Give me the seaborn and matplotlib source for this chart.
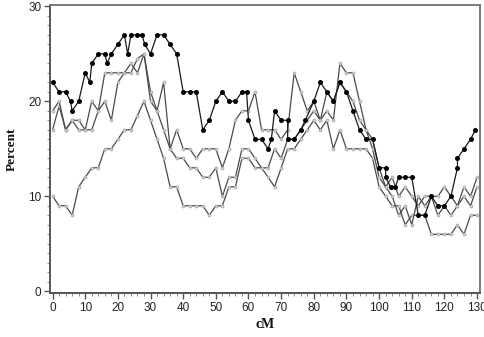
import matplotlib
matplotlib.use("Agg")
import matplotlib.pyplot as plt
import seaborn as sns
import pandas as pd
from matplotlib.ticker import MultipleLocator

# ---- data ----
black_x = [0, 2, 4, 5.5, 6, 8, 10, 11.4, 12, 14, 16, 16.7, 18, 20, 22, 23, 24, 26, 27.4, 28.2,
           30, 32, 34, 36, 38, 40, 42, 44, 46, 48, 50, 52, 54, 56, 58, 59.4, 60, 62, 64, 66,
           67, 68, 70, 72, 72, 74, 76, 77.4, 80, 82, 84, 86, 88, 90, 92, 94, 96, 98, 100, 102,
           102, 103.5, 105, 106, 108, 110, 112, 114, 116, 118, 120, 122, 124, 124, 126, 128, 129.5]
black_y = [22, 21, 21, 20, 19, 20, 23, 22, 24, 25, 25, 24, 25, 26, 27, 25, 27, 27, 27, 26,
           25, 27, 27, 26, 25, 21, 21, 21, 17, 18, 20, 21, 20, 20, 21, 21, 18, 16, 16, 15,
           16, 19, 18, 18, 16, 16, 17, 18, 20, 22, 21, 20, 22, 21, 19, 17, 16, 16, 13, 13,
           12, 11, 11, 12, 12, 12, 8, 8, 10, 9, 9, 10, 13, 14, 15, 16, 17]

grid_x = list(range(0, 131, 2))
gray_b = [17, 19.5, 17, 18, 17, 17, 17, 19, 23, 23, 23, 23, 23, 24.5, 25, 21, 19, 17, 15, 14,
          14, 13, 13, 12, 12, 13, 10, 12, 12, 15, 15, 14, 13, 13, 15, 14, 16, 16, 17, 18,
          19, 18, 21, 20, 22, 21, 20, 18, 17, 16, 13, 11, 10, 8, 9, 7, 10, 9, 10, 8,
          9, 8, 9, 10, 9, 11]
gray_c = [19, 20, 17, 18, 18, 17, 20, 19, 20, 18, 22, 23, 24, 23, 25, 20, 19, 22, 15, 17,
          15, 15, 14, 15, 15, 15, 13, 15, 18, 19, 19, 21, 17, 17, 17, 16, 17, 23, 21, 19,
          20, 18, 19, 18, 24, 23, 23, 20, 17, 15, 12, 11, 12, 10, 11, 10, 9, 10, 10, 10,
          11, 10, 9, 11, 10, 12]
gray_d = [10, 9, 9, 8, 11, 12, 13, 13, 15, 15, 16, 17, 17, 18.5, 20, 18, 16, 14, 11, 11,
          9, 9, 9, 9, 8, 9, 9, 11, 11, 14, 14, 13, 13, 12, 11, 13, 15, 15, 16, 17,
          18, 17, 18, 15, 17, 15, 15, 15, 15, 14, 11, 10, 9, 9, 7, 8, 8, 8, 6, 6,
          6, 6, 7, 6, 8, 8]

x_ticks = list(range(0, 131, 10))
y_ticks = [0, 10, 20, 30]

# ---- style ----
sns.set_style("ticks")
plt.rcParams['font.family'] = ['Liberation Sans', 'DejaVu Sans']

fig = plt.figure(figsize=(4.85, 3.37), dpi=100)
ax = fig.add_axes([0.103, 0.13, 0.886, 0.854])

gray_line = "#4a4a4a"
for ys in (gray_d, gray_b, gray_c):
    df = pd.DataFrame({"cM": grid_x, "Percent": ys})
    sns.lineplot(data=df, x="cM", y="Percent", ax=ax, color=gray_line, lw=0.9,
                 marker="o", markersize=2.2, markerfacecolor="#d0d0d0",
                 markeredgecolor="#9a9a9a", markeredgewidth=0.4,
                 estimator=None, sort=False)

dfa = pd.DataFrame({"cM": black_x, "Percent": black_y})
sns.lineplot(data=dfa, x="cM", y="Percent", ax=ax, color="#1a1a1a", lw=0.9,
             marker="o", markersize=3.6, markerfacecolor="black",
             markeredgecolor="black", markeredgewidth=0,
             estimator=None, sort=False)

ax.set_xlim(-0.8, 130.8)
ax.set_ylim(-0.2, 30.1)
ax.set_xticks(x_ticks)
ax.set_yticks(y_ticks)
ax.xaxis.set_minor_locator(MultipleLocator(2))
ax.yaxis.set_minor_locator(MultipleLocator(1))
ax.tick_params(axis="both", which="major", length=4, width=1, color="#555555",
               labelsize=8.5, labelcolor="#222222", pad=2)
ax.tick_params(axis="both", which="minor", length=2, width=0.6, color="#777777")

for s in ax.spines.values():
    s.set_visible(True)
    s.set_color("#7a7a7a")
    s.set_linewidth(1.4)
ax.spines["left"].set_color("#555555")
ax.spines["bottom"].set_color("#555555")

ax.set_xlabel("cM", fontfamily="Liberation Serif", fontweight="bold", fontsize=10,
              labelpad=3, color="#111111")
ax.set_ylabel("Percent", fontfamily="Liberation Serif", fontweight="bold", fontsize=9.5,
              labelpad=8, color="#111111")

fig.savefig("out.png", dpi=100)
